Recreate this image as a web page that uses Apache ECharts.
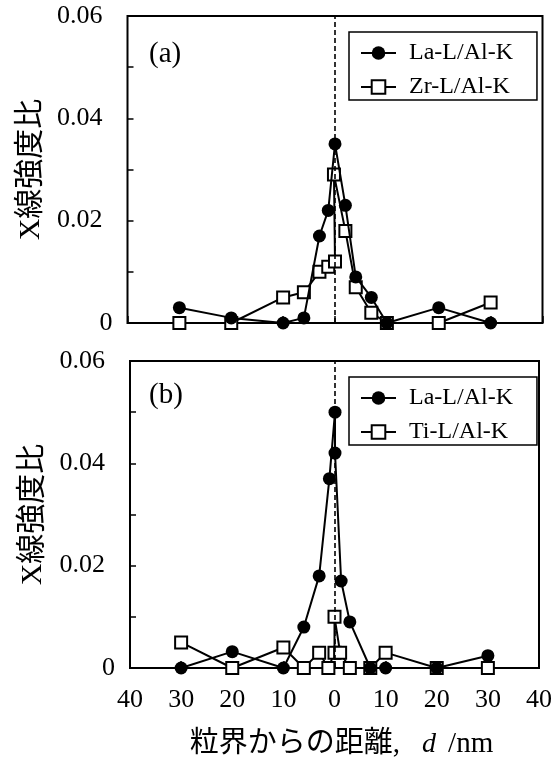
<!DOCTYPE html>
<html>
<head>
<meta charset="utf-8">
<script src="https://cdn.jsdelivr.net/npm/echarts@6/dist/echarts.min.js"></script>
<style>
  html, body { margin: 0; padding: 0; background: #fff; }
  #chart { width: 555px; height: 760px; }
</style>
</head>
<body>
<div id="chart"></div>
<script>
// panel (a)
const laA_d = [-30, -20, -10, -6, -3, -1.3, 0, 2, 4, 7, 10, 20, 30]
const laA_v = [0.003, 0.001, 0, 0.001, 0.017, 0.022, 0.035, 0.023, 0.009, 0.005, 0, 0.003, 0]
const zrA_d = [-30, -20, -10, -6, -3, -1.3, 0, -0.2, 2, 4, 7, 10, 20, 30]
const zrA_v = [0, 0, 0.005, 0.006, 0.010, 0.011, 0.012, 0.029, 0.018, 0.007, 0.002, 0, 0, 0.004]
// panel (b)
const laB_d = [-30, -20, -10, -6, -3, -1, 0.1, 0.1, 1.3, 3, 7, 10, 20, 30]
const laB_v = [0, 0.0032, 0, 0.008, 0.018, 0.037, 0.050, 0.042, 0.017, 0.009, 0, 0, 0, 0.0024]
const tiB_d = [-30, -20, -10, -6, -3, -1.2, 0, 0, 1.1, 3, 7, 10, 20, 30]
const tiB_v = [0.005, 0, 0.004, 0, 0.003, 0, 0.003, 0.010, 0.003, 0, 0, 0.003, 0, 0]

const xTicks = [-40, -30, -20, -10, 0, 10, 20, 30, 40]
const yTicks = [0, 0.02, 0.04, 0.06]

const serif = "'Liberation Serif', 'Noto Sans CJK JP'"
const zip = (d, v) => d.map((x, i) => [x, v[i]])

const chart = echarts.init(document.getElementById('chart'))

function xAxisOf(idx, showLabel) {
  return {
    type: 'value', gridIndex: idx,
    min: xTicks[0], max: xTicks[xTicks.length - 1], interval: 10,
    axisLine: { show: false, onZero: false },
    axisTick: { show: true, inside: true, length: 7, lineStyle: { color: '#000', width: 1.5 } },
    splitLine: { show: false },
    axisLabel: {
      show: showLabel, margin: 19, color: '#000', fontFamily: serif, fontSize: 26,
      formatter: v => String(Math.abs(v))
    },
    name: showLabel ? '{s|粒界からの距離,}{i|d}{a|/nm}' : '',
    nameLocation: 'middle', nameGap: 62,
    nameTextStyle: {
      rich: {
        s: { fontFamily: serif, fontSize: 29, color: '#000', padding: [0, 0, 0, 14] },
        a: { fontFamily: serif, fontSize: 29, color: '#000' },
        i: { fontFamily: 'Liberation Serif', fontStyle: 'italic', fontSize: 28, color: '#000',
             padding: [0, 12, 0, 22] }
      }
    }
  }
}

function yAxisOf(idx) {
  return {
    type: 'value', gridIndex: idx,
    min: 0, max: 0.06, interval: 0.01,
    axisLine: { show: false, onZero: false },
    axisTick: { show: true, inside: true, length: 6, lineStyle: { color: '#000', width: 1.5 } },
    splitLine: { show: false },
    axisLabel: {
      margin: 15,
      formatter: v => {
        const k = Math.round(v * 100)
        if (!yTicks.some(t => Math.round(t * 100) === k)) return ''
        return k === 0 ? '{z|0}' : '{n|' + (k / 100).toFixed(2) + '}'
      },
      rich: {
        n: { fontFamily: serif, fontSize: 26, color: '#000', padding: [0, 10, 0, 0] },
        z: { fontFamily: serif, fontSize: 26, color: '#000' }
      }
    },
    name: 'X線強度比', nameLocation: 'middle', nameRotate: 90, nameGap: 80,
    nameTextStyle: { fontFamily: serif, fontSize: 30, color: '#000' }
  }
}

function dotSeries(name, idx, data) {
  return {
    name, type: 'line', xAxisIndex: idx, yAxisIndex: idx, data,
    symbol: 'circle', symbolSize: 13,
    lineStyle: { color: '#000', width: 2 },
    itemStyle: { color: '#000', borderColor: '#000', borderWidth: 0 },
    z: 4, animation: false
  }
}

function boxSeries(name, idx, data) {
  return {
    name, type: 'line', xAxisIndex: idx, yAxisIndex: idx, data,
    symbol: 'rect', symbolSize: 12,
    lineStyle: { color: '#000', width: 2 },
    itemStyle: { color: '#fff', borderColor: '#000', borderWidth: 2 },
    z: 3, animation: false
  }
}

function zeroLine(idx) {
  return {
    type: 'line', xAxisIndex: idx, yAxisIndex: idx, data: [], z: 1, silent: true,
    markLine: {
      silent: true, symbol: ['none', 'none'], label: { show: false },
      lineStyle: { color: '#000', type: [5, 3], width: 1.6 },
      data: [{ xAxis: 0 }], animation: false
    }
  }
}

function legendOf(top, names) {
  return {
    orient: 'vertical', left: 349, top: top, data: names,
    borderColor: '#000', borderWidth: 1.5, padding: [9, 24, 1, 11],
    itemGap: 10, itemWidth: 35, itemHeight: 17,
    textStyle: { fontFamily: 'Liberation Serif', fontSize: 24, color: '#000', padding: [0, 0, 0, 8] },
    selectedMode: false
  }
}

chart.setOption({
  animation: false,
  title: [
    { text: '(a)', left: 149, top: 40, padding: 0,
      textStyle: { fontFamily: 'Liberation Serif', fontSize: 29, fontWeight: 'normal', color: '#000' } },
    { text: '(b)', left: 149, top: 381, padding: 0,
      textStyle: { fontFamily: 'Liberation Serif', fontSize: 29, fontWeight: 'normal', color: '#000' } }
  ],
  grid: [
    { left: 127.5, top: 16, width: 415, height: 307, show: true, borderColor: '#000', borderWidth: 2 },
    { left: 130, top: 361, width: 413, height: 308.5, show: true, borderColor: '#000', borderWidth: 2 }
  ],
  legend: [
    legendOf(32, ['La-L/Al-K', 'Zr-L/Al-K']),
    legendOf(377, ['La-L/Al-K', 'Ti-L/Al-K'])
  ],
  xAxis: [xAxisOf(0, false), xAxisOf(1, true)],
  yAxis: [yAxisOf(0), yAxisOf(1)],
  series: [
    zeroLine(0),
    boxSeries('Zr-L/Al-K', 0, zip(zrA_d, zrA_v)),
    dotSeries('La-L/Al-K', 0, zip(laA_d, laA_v)),
    zeroLine(1),
    boxSeries('Ti-L/Al-K', 1, zip(tiB_d, tiB_v)),
    dotSeries('La-L/Al-K', 1, zip(laB_d, laB_v))
  ]
})
</script>
</body>
</html>
